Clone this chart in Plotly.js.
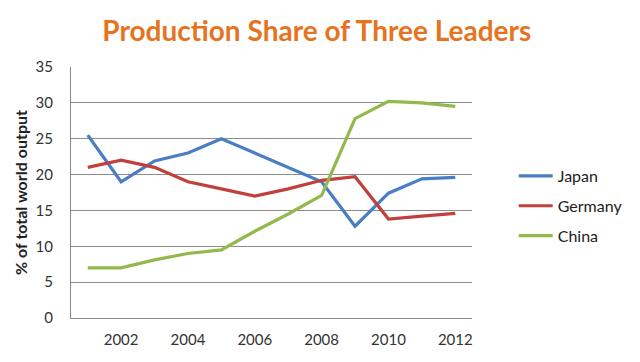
<!DOCTYPE html>
<html><head><meta charset="utf-8">
<script src="https://cdn.plot.ly/plotly-3.0.1.min.js"></script>
<style>body{margin:0;background:#fff}#c{width:640px;height:362px}</style>
</head><body><div id="c"></div>
<script>
const years = [2001,2002,2003,2004,2005,2006,2007,2008,2009,2010,2011,2012];
const japan = [25.5,19.0,21.9,23.0,25.0,23.0,21.0,19.0,12.8,17.4,19.4,19.6];
const germany = [21.0,22.0,21.0,19.0,18.0,17.0,18.0,19.2,19.7,13.8,14.2,14.6];
const china = [7.0,7.0,8.1,9.0,9.5,12.1,14.5,17.1,27.8,30.2,30.0,29.5];
const xTicks = [2002,2004,2006,2008,2010,2012];
const yTicks = [0,5,10,15,20,25,30,35];

const mk = (name, y, color) => ({x: years, y: y, name: name, legendgroup: name, type: 'scatter', mode: 'lines',
  line: {color: color, width: 3.2}});
const data = [mk('Japan', japan, '#4A7EC4'), mk('Germany', germany, '#C0413C'), mk('China', china, '#93B94C')];

const layout = {
  width: 640, height: 362,
  paper_bgcolor: '#fff', plot_bgcolor: '#fff',
  margin: {l: 71, r: 141, t: 67, b: 44},
  font: {family: 'Lato, "Open Sans", sans-serif', color: '#333', size: 14},
  title: {text: '<b>Production Share of Three Leaders</b>', x: 0.495, xanchor: 'center', y: 0.915, yanchor: 'middle',
    font: {family: 'Lato, sans-serif', size: 28, color: '#E8731E'}},
  xaxis: {range: [2000.5, 2012.5], tickvals: xTicks, ticktext: xTicks.map(String), showgrid: false,
    showline: true, linecolor: '#888', linewidth: 1, ticks: '', zeroline: false, ticklen: 0,
    ticklabelstandoff: 8,
    tickfont: {size: 15, color: '#333'}},
  yaxis: {range: [0, 35], tickvals: yTicks, showgrid: true, gridcolor: '#8c8c8c', gridwidth: 1,
    showline: true, linecolor: '#888', linewidth: 1, zeroline: false, ticks: '', ticklen: 0,
    ticklabelstandoff: 14,
    tickfont: {size: 15, color: '#333'},
    title: {text: '<b>% of total world output</b>', standoff: 3, font: {size: 16, color: '#222'}}},
  legend: {x: 1.104, xanchor: 'left', y: 0.446, yanchor: 'middle', traceorder: 'grouped', tracegroupgap: 6,
    font: {size: 16, color: '#222'}, itemwidth: 34, bgcolor: 'rgba(0,0,0,0)'},
  showlegend: true
};
Plotly.newPlot('c', data, layout, {displayModeBar: false, staticPlot: true});
</script></body></html>
